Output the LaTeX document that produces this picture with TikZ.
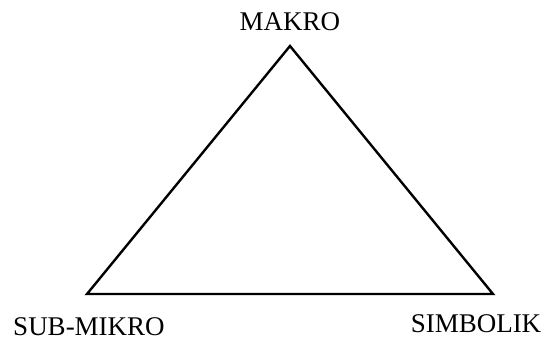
\documentclass[tikz,border=0pt]{standalone}
\usepackage{fontspec}
\setmainfont{Liberation Serif}
\begin{document}
\begin{tikzpicture}[x=1pt,y=1pt,
  lbl/.style={font=\fontsize{27}{30}\selectfont, inner sep=0pt, anchor=base},
  tri/.style={draw=black, line width=2.4pt, line join=miter}]
\useasboundingbox (0,0) rectangle (547,341);
\coordinate (top) at (290,295);
\coordinate (bl) at (87,47);
\coordinate (br) at (493,47);
\draw[tri] (top) -- (bl) -- (br) -- cycle;
\node[lbl] (makro) at (290,310) {MAKRO};
\node[lbl] (sub) at (89,6) {SUB-MIKRO};
\node[lbl] (simb) at (476,9) {SIMBOLIK};
\end{tikzpicture}
\end{document}
